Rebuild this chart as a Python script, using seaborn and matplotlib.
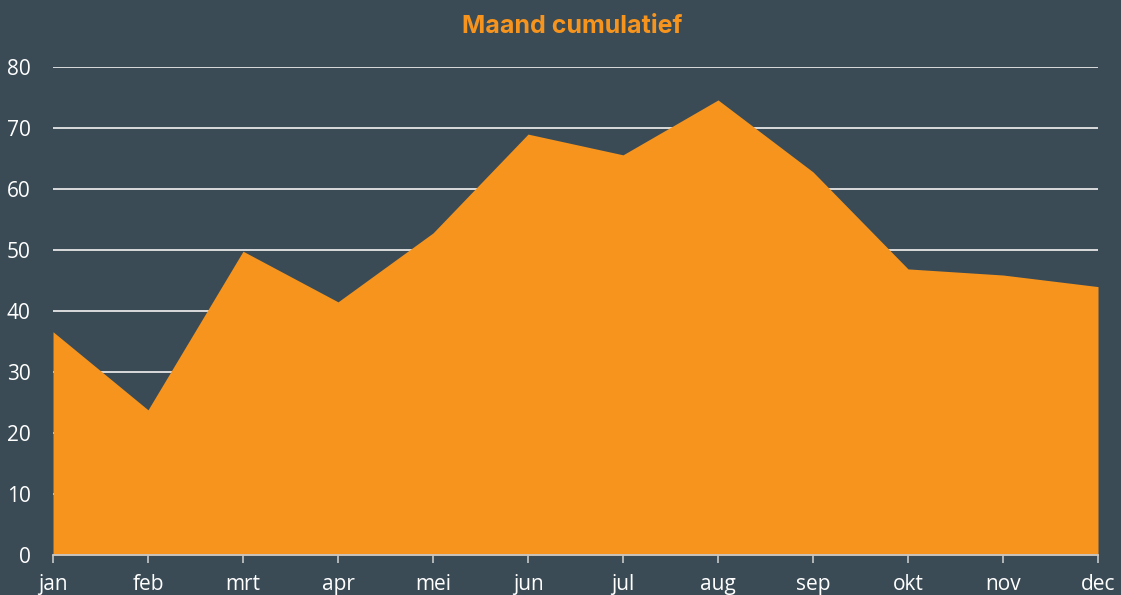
import pandas as pd
import matplotlib
matplotlib.use("Agg")
import matplotlib.pyplot as plt
import seaborn as sns

# monthly values
maanden = ['jan', 'feb', 'mrt', 'apr', 'mei', 'jun', 'jul', 'aug', 'sep', 'okt', 'nov', 'dec']
waarden = [36.6, 23.8, 49.8, 41.5, 52.8, 69.0, 65.6, 74.6, 62.8, 46.9, 45.9, 44.0]

df = pd.DataFrame({'maand': maanden, 'waarde': waarden})
df['pos'] = range(len(df))

bg = '#3a4b56'
oranje = '#f7941d'

sns.set_style('white')
plt.rcParams['font.family'] = ['Open Sans', 'DejaVu Sans']

fig = plt.figure(figsize=(11.21, 5.95), dpi=100, facecolor=bg)
ax = fig.add_axes([0.0473, 0.0672, 0.9322, 0.8202])
ax.set_facecolor(bg)

sns.lineplot(data=df, x='pos', y='waarde', color=oranje, linewidth=0, ax=ax)
ax.fill_between(df['pos'], df['waarde'], color=oranje, linewidth=0, zorder=3)

ax.set_xlim(0, len(df) - 1)
ax.set_ylim(0, 80)
ax.set_yticks(range(0, 81, 10))
ax.set_xticks(df['pos'])
ax.set_xticklabels(df['maand'])
ax.yaxis.grid(True, color='#e6e6e6', linewidth=1.3)
ax.set_axisbelow(True)

for s in ['top', 'right', 'left']:
    ax.spines[s].set_visible(False)
ax.spines['bottom'].set_color('#c8c8c8')
ax.spines['bottom'].set_linewidth(1.3)
ax.spines['bottom'].set_zorder(4)

ax.tick_params(axis='x', bottom=True, colors='#c8c8c8', length=6, width=1.2,
               labelcolor='white', labelsize=15, pad=8)
ax.tick_params(axis='y', left=False, length=0, labelcolor='white', labelsize=15, pad=16)
ax.set_xlabel('')
ax.set_ylabel('')

fig.text(0.51, 0.955, 'Maand cumulatief', color=oranje, fontsize=18, fontweight='bold',
         family=['Inter', 'DejaVu Sans'], ha='center', va='center')

fig.savefig('out.png', dpi=100, facecolor=bg)
